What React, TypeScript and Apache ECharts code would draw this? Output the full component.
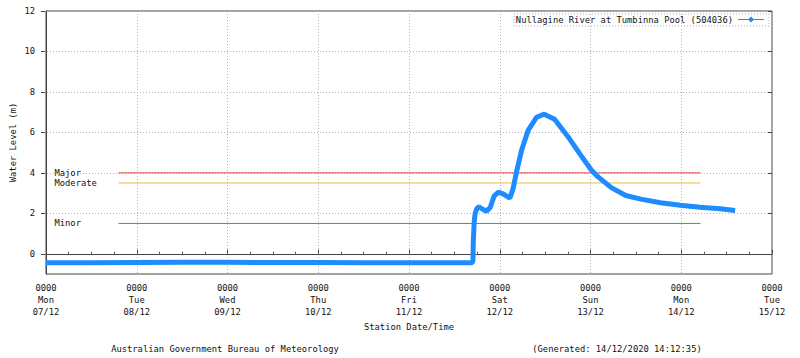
import React, { useEffect, useRef } from "react";
import * as echarts from "echarts";

// ---- data ----
const times: string[] = [
  "07/12 00:00", "07/12 12:00", "08/12 00:00", "08/12 12:00", "09/12 00:00",
  "09/12 12:00", "10/12 00:00", "10/12 12:00", "11/12 00:00", "11/12 12:00",
  "11/12 16:45", "11/12 16:55", "11/12 17:00", "11/12 17:15", "11/12 17:30",
  "11/12 18:00", "11/12 18:30", "11/12 19:30", "11/12 20:30", "11/12 21:30",
  "11/12 22:30", "11/12 23:40", "12/12 01:00", "12/12 02:40", "12/12 03:30",
  "12/12 04:30", "12/12 05:45", "12/12 07:30", "12/12 09:45", "12/12 11:45",
  "12/12 14:30", "12/12 18:00", "12/12 21:30", "13/12 00:10", "13/12 02:00",
  "13/12 05:30", "13/12 09:20", "13/12 13:20", "13/12 18:30", "13/12 23:45",
  "14/12 05:00", "14/12 10:15", "14/12 14:15",
];
const waterLevel: number[] = [
  -0.44, -0.44, -0.43, -0.42, -0.42,
  -0.43, -0.43, -0.44, -0.44, -0.44,
  -0.44, -0.3, 0.6, 1.6, 2.0,
  2.25, 2.32, 2.2, 2.1, 2.3,
  2.85, 3.05, 2.95, 2.75, 3.2,
  4.1, 5.1, 6.1, 6.75, 6.9,
  6.65, 5.8, 4.85, 4.15, 3.8,
  3.27, 2.88, 2.7, 2.52, 2.4,
  2.3, 2.22, 2.14,
];
const dayNames: string[] = ["Mon", "Tue", "Wed", "Thu", "Fri", "Sat", "Sun", "Mon", "Tue"];
const dayDates: string[] = ["07/12", "08/12", "09/12", "10/12", "11/12", "12/12", "13/12", "14/12", "15/12"];
const thresholdNames: string[] = ["Major", "Moderate", "Minor"];
const thresholdLevels: number[] = [4.0, 3.5, 1.5];
const thresholdColors: string[] = ["#e8403c", "#f0b840", "#2ea060"];
const thresholdStart = "07/12 19:10";
const thresholdEnd = "14/12 05:05";
const seriesName = "Nullagine River at Tumbinna Pool (504036)";

const FONT = "DejaVu Sans Mono";
const FS = 8.8;

function toHours(s: string): number {
  const [d, t] = s.split(" ");
  const [dd] = d.split("/");
  const [hh, mi] = t.split(":");
  return (Number(dd) - 7) * 24 + Number(hh) + Number(mi) / 60;
}

export default function App() {
  const ref = useRef<HTMLDivElement>(null);
  useEffect(() => {
    if (!ref.current) return;
    const chart = echarts.init(ref.current, undefined, { renderer: "svg" });
    const gridTop = 11;
    const gridBottom = 84;
    const plotH = 358 - gridTop - gridBottom;
    const grid1H = (plotH * 12) / 13;
    const dotted = { color: "#b4b4b4", type: [1, 2] as any, width: 1 };
    const txt = { fontFamily: FONT, fontSize: FS, color: "#111" };

    const thresholdSeries = thresholdLevels.map((lv, i) => ({
      name: "th-" + thresholdNames[i], type: "line", xAxisIndex: 0, yAxisIndex: 0, z: 1,
      color: thresholdColors[i],
      data: [[toHours(thresholdStart), lv], [toHours(thresholdEnd), lv]],
      showSymbol: false, symbol: "none",
      lineStyle: { color: thresholdColors[i], width: 1 },
      itemStyle: { color: thresholdColors[i] },
      markLine: {
        silent: true, symbol: ["none", "none"],
        lineStyle: { color: "rgba(255,255,255,0)", width: 1 },
        label: {
          show: true, position: "start", formatter: thresholdNames[i], align: "left",
          distance: [64, 0], ...txt,
        },
        data: [[
          { coord: [toHours(thresholdStart), lv] },
          { coord: [toHours(thresholdEnd), lv] },
        ]],
      },
    }));

    const option: any = {
      animation: false,
      backgroundColor: "#fff",
      grid: [
        { left: 41, right: 28, top: gridTop, bottom: gridBottom, show: true, borderColor: "#444", borderWidth: 1, backgroundColor: "transparent" },
        { left: 41, right: 28, top: gridTop, height: grid1H, show: false },
      ],
      xAxis: [
        {
          gridIndex: 0, type: "value", min: 0, max: 192, interval: 24,
          axisLine: { show: true, lineStyle: { color: "#444" } },
          axisTick: { show: true, inside: true, length: 4, lineStyle: { color: "#444" } },
          minorTick: { show: true, splitNumber: 4, length: 2, lineStyle: { color: "#444" } },
          splitLine: { show: true, lineStyle: dotted },
          axisLabel: {
            ...txt, margin: 8, lineHeight: 12,
            formatter: (v: number) => {
              const i = Math.round(v / 24);
              return "0000\n" + dayNames[i] + "\n" + dayDates[i];
            },
          },
          name: "Station Date/Time", nameLocation: "middle", nameGap: 47,
          nameTextStyle: { ...txt },
        },
        { gridIndex: 1, type: "value", min: 0, max: 192, show: false },
      ],
      yAxis: [
        {
          gridIndex: 0, type: "value", min: -1, max: 12,
          axisLine: { show: true, lineStyle: { color: "#444" } },
          axisTick: { show: false }, axisLabel: { show: false }, splitLine: { show: false },
          name: "Water Level (m)", nameLocation: "middle", nameGap: 29,
          nameTextStyle: { ...txt },
        },
        {
          gridIndex: 1, type: "value", min: 0, max: 12, interval: 2,
          axisLine: { show: false },
          axisTick: { show: true, inside: true, length: 4, lineStyle: { color: "#444" } },
          axisLabel: { ...txt, margin: 6 },
          splitLine: { show: true, lineStyle: dotted },
        },
        {
          gridIndex: 1, type: "value", min: 0, max: 12, interval: 2, position: "right",
          axisLine: { show: false },
          axisTick: { show: true, inside: true, length: 4, lineStyle: { color: "#444" } },
          axisLabel: { show: false }, splitLine: { show: false },
        },
      ],
      legend: {
        top: 13, right: 34, itemWidth: 26, itemHeight: 9, align: "right",
        itemGap: 4, padding: 2,
        data: [{ name: seriesName, icon: "path://M0,4 L26,4 L26,5 L0,5 Z M13,1.5 L16,4.5 L13,7.5 L10,4.5 Z" }],
        textStyle: { ...txt },
      },
      graphic: [
        {
          type: "rect", z: 0,
          shape: { x: 514, y: 14, width: 255, height: 12 },
          style: { fill: "#fff", stroke: "#aaa", lineWidth: 1, lineDash: [1, 2] },
        },
        {
          type: "text", x: 225, y: 349,
          style: { text: "Australian Government Bureau of Meteorology", fontFamily: FONT, fontSize: FS, fill: "#111", align: "center", verticalAlign: "middle" },
        },
        {
          type: "text", x: 617, y: 349,
          style: { text: "(Generated: 14/12/2020 14:12:35)", fontFamily: FONT, fontSize: FS, fill: "#111", align: "center", verticalAlign: "middle" },
        },
      ],
      series: [
        ...thresholdSeries,
        {
          name: seriesName, type: "line", xAxisIndex: 0, yAxisIndex: 0, z: 3,
          data: times.map((t, i) => [toHours(t), waterLevel[i]]),
          showSymbol: false, symbol: "diamond", symbolSize: 6,
          color: "#1e8cff",
          itemStyle: { color: "#1e8cff" },
          lineStyle: { color: "#1e8cff", width: 5 },
        },
      ],
    };
    chart.setOption(option);
    return () => chart.dispose();
  }, []);
  return (
    <div
      ref={ref}
      style={{ position: "absolute", left: 0, top: 0, width: 800, height: 358 }}
    />
  );
}
